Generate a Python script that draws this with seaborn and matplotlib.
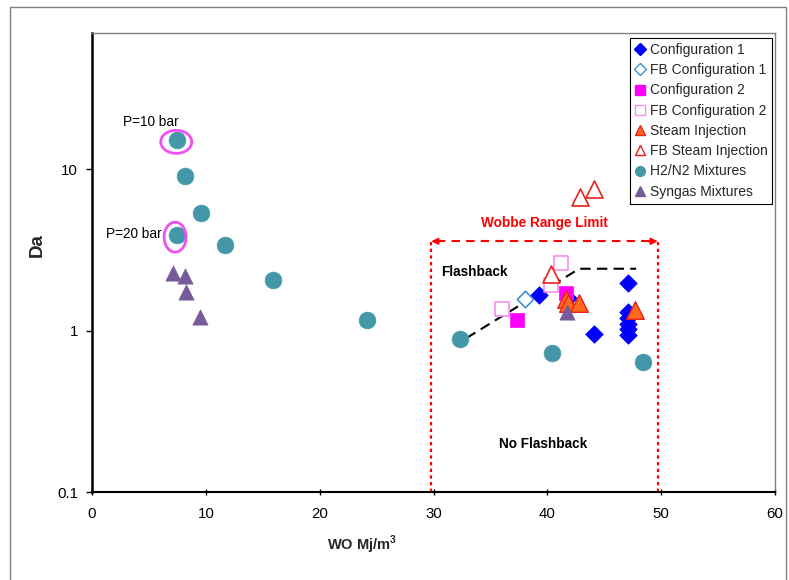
import numpy as np
import pandas as pd
import seaborn as sns
import matplotlib.pyplot as plt
from matplotlib.lines import Line2D
from matplotlib.patches import Ellipse, Rectangle
from matplotlib.ticker import NullLocator

sns.set_theme(style="white")
plt.rcParams['font.family'] = ['Liberation Sans', 'DejaVu Sans']

# ---------------- data ----------------
cfg1_x = [39.3, 41.8, 44.1, 47.1, 47.1, 47.1, 47.1, 47.1, 47.1]
cfg1_y = [1.66, 1.60, 0.95, 1.97, 1.30, 1.20, 1.10, 1.02, 0.94]

fbcfg1_x = [38.0]
fbcfg1_y = [1.57]

cfg2_x = [37.3, 41.6]
cfg2_y = [1.16, 1.71]

fbcfg2_x = [36.0, 40.3, 41.2]
fbcfg2_y = [1.36, 1.91, 2.62]

steam_x = [41.6, 41.8, 42.8, 47.7]
steam_y = [1.57, 1.48, 1.48, 1.34]

fbsteam_x = [40.3, 42.9, 44.1]
fbsteam_y = [2.24, 6.7, 7.6]

h2n2_x = [7.5, 8.2, 9.6, 7.5, 11.7, 15.9, 24.2, 32.3, 40.4, 48.4]
h2n2_y = [15.1, 9.05, 5.34, 3.9, 3.38, 2.06, 1.16, 0.885, 0.726, 0.638]

syn_x = [7.1, 8.2, 8.3, 9.5, 41.7]
syn_y = [2.27, 2.17, 1.73, 1.21, 1.30]

fb_line_x = [32.9, 42.8, 47.8]
fb_line_y = [0.90, 2.42, 2.42]

wobbe_lo, wobbe_hi, wobbe_y = 29.8, 49.7, 3.58

labels = ["Configuration 1", "FB Configuration 1", "Configuration 2",
          "FB Configuration 2", "Steam Injection", "FB Steam Injection",
          "H2/N2 Mixtures", "Syngas Mixtures"]
x_ticks = [0, 10, 20, 30, 40, 50, 60]
y_ticks = [0.1, 1, 10]
y_ticklabels = ["0.1", "1", "10"]

YMIN, YMAX = 0.1, 70

# ---------------- figure ----------------
fig = plt.figure(figsize=(7.89, 5.8), dpi=100)
fig.patch.set_facecolor("white")
fig.add_artist(Rectangle((10 / 789, -0.01), 776 / 789, 1 - 7 / 580 + 0.01,
                         transform=fig.transFigure, fill=False,
                         edgecolor="#7f7f7f", lw=1.0))
ax = fig.add_axes([92 / 789, 88 / 580, 683 / 789, 459 / 580])
ax.set_facecolor("white")
ax.set_yscale("log")
ax.set_xlim(0, 60)
ax.set_ylim(YMIN, YMAX)

C_BLUE = "#0000FF"
C_LBLUE = "#3F8FD2"
C_MAG = "#FF00FF"
C_PINK = "#F58FF0"
C_ORANGE = "#FF6A1A"
C_RED = "#E8201A"
C_TEAL = "#4397A8"
C_PURP = "#775A98"

def scat(x, y, marker, s, fc, ec, lw=0.8):
    sns.scatterplot(x=x, y=y, ax=ax, marker=marker, s=s, facecolor=fc,
                    edgecolor=ec, linewidth=lw, legend=False, zorder=3)

scat(h2n2_x, h2n2_y, "o", 145, C_TEAL, C_TEAL, 0.5)
scat(cfg1_x, cfg1_y, "D", 80, C_BLUE, C_BLUE, 0.5)
scat(fbcfg1_x, fbcfg1_y, "D", 70, "white", C_LBLUE, 1.2)
scat(cfg2_x, cfg2_y, "s", 110, C_MAG, C_MAG, 0.5)
scat(fbcfg2_x, fbcfg2_y, "s", 110, "white", C_PINK, 1.2)
scat(steam_x, steam_y, "^", 160, C_ORANGE, C_RED, 1.0)
scat(fbsteam_x, fbsteam_y, "^", 150, "white", C_RED, 1.2)
scat(syn_x, syn_y, "^", 120, C_PURP, C_PURP, 0.5)

# flashback boundary
sns.lineplot(x=fb_line_x, y=fb_line_y, ax=ax, color="black", lw=1.5,
             linestyle=(0, (5, 3)), zorder=2, sort=False, estimator=None)

# Wobbe range limits
ax.plot([wobbe_lo, wobbe_lo], [YMIN, wobbe_y], color="red", ls=(0, (1.5, 1.5)), lw=1.6, zorder=2)
ax.plot([wobbe_hi, wobbe_hi], [YMIN, wobbe_y], color="red", ls=(0, (1.5, 1.5)), lw=1.6, zorder=2)
ax.plot([wobbe_lo + 0.5, wobbe_hi - 0.5], [wobbe_y, wobbe_y], color="red", ls=(0, (4, 3)), lw=1.5, zorder=2)
for xa, xb in [(wobbe_lo + 0.8, wobbe_lo), (wobbe_hi - 0.8, wobbe_hi)]:
    ax.annotate("", xy=(xb, wobbe_y), xytext=(xa, wobbe_y),
                arrowprops=dict(arrowstyle="-|>", color="red", lw=1.2,
                                mutation_scale=10, shrinkA=0, shrinkB=0))
ax.text((wobbe_lo + wobbe_hi) / 2, 4.65, "Wobbe Range Limit", color="red",
        fontweight="bold", fontsize=9.8, ha="center", va="center")
ax.text(30.7, 2.3, "Flashback", color="black", fontweight="bold",
        fontsize=9.8, ha="left", va="center")
ax.text(39.6, 0.198, "No Flashback", color="black", fontweight="bold",
        fontsize=9.8, ha="center", va="center")

# pressure annotations
ax.text(5.2, 19.6, "P=10 bar", fontsize=9.8, ha="center", va="center", color="black")
ax.text(3.7, 4.0, "P=20 bar", fontsize=9.8, ha="center", va="center", color="black")

def axfrac(x, y):
    return (x / 60, (np.log10(y) - np.log10(YMIN)) / (np.log10(YMAX) - np.log10(YMIN)))

ax.add_patch(Ellipse(axfrac(7.4, 14.8), 31 / 683, 23 / 459, transform=ax.transAxes,
                     fill=False, edgecolor="#F050F0", lw=2.0, zorder=4))
ax.add_patch(Ellipse(axfrac(7.3, 3.8), 22 / 683, 30 / 459, transform=ax.transAxes,
                     fill=False, edgecolor="#F050F0", lw=2.0, zorder=4))

# axes styling
ax.set_xticks(x_ticks)
ax.set_yticks(y_ticks, labels=y_ticklabels)
ax.yaxis.set_minor_locator(NullLocator())
ax.tick_params(axis="x", which="major", direction="inout", length=5, width=1,
               color="black", labelsize=10.8, labelcolor="black", pad=8,
               bottom=True)
ax.tick_params(axis="y", which="major", direction="out", length=4, width=1,
               color="black", labelsize=10.8, labelcolor="black", pad=6,
               left=True)
for side in ["left", "bottom"]:
    ax.spines[side].set_color("black")
ax.spines["left"].set_linewidth(1.8)
ax.spines["bottom"].set_linewidth(1.5)
for side in ["top", "right"]:
    ax.spines[side].set_color("#808080")
    ax.spines[side].set_linewidth(1.0)
ax.grid(False)

ax.set_xlabel("WO Mj/m$^\\mathregular{3}$", fontsize=10.5, fontweight="bold")
ax.xaxis.set_label_coords((362 - 92) / 683, -(545 - 492) / 459)
ax.xaxis.label.set_va("center")
ax.set_ylabel("Da", fontsize=13.5, fontweight="bold")
ax.yaxis.set_label_coords(-(92 - 37) / 683, (492 - 245) / 459)
ax.yaxis.label.set_va("center")

# legend
handles = [
    Line2D([], [], ls="none", marker="D", markersize=6, mfc=C_BLUE, mec=C_BLUE),
    Line2D([], [], ls="none", marker="D", markersize=6, mfc="white", mec=C_LBLUE, mew=1.0),
    Line2D([], [], ls="none", marker="s", markersize=7, mfc=C_MAG, mec=C_MAG),
    Line2D([], [], ls="none", marker="s", markersize=7, mfc="white", mec=C_PINK, mew=1.0),
    Line2D([], [], ls="none", marker="^", markersize=7, mfc=C_ORANGE, mec=C_RED),
    Line2D([], [], ls="none", marker="^", markersize=7, mfc="white", mec=C_RED, mew=1.0),
    Line2D([], [], ls="none", marker="o", markersize=7, mfc=C_TEAL, mec=C_TEAL),
    Line2D([], [], ls="none", marker="^", markersize=7, mfc=C_PURP, mec=C_PURP),
]
leg = ax.legend(handles, labels, loc="upper right", bbox_to_anchor=(0.996, 0.989),
                fontsize=10, frameon=True, fancybox=False, framealpha=1,
                edgecolor="black", borderpad=0.35, labelspacing=0.45,
                handlelength=0.8, handletextpad=0.3, borderaxespad=0)
leg.get_frame().set_linewidth(0.8)

fig.savefig("out.png", dpi=100, facecolor="white")
